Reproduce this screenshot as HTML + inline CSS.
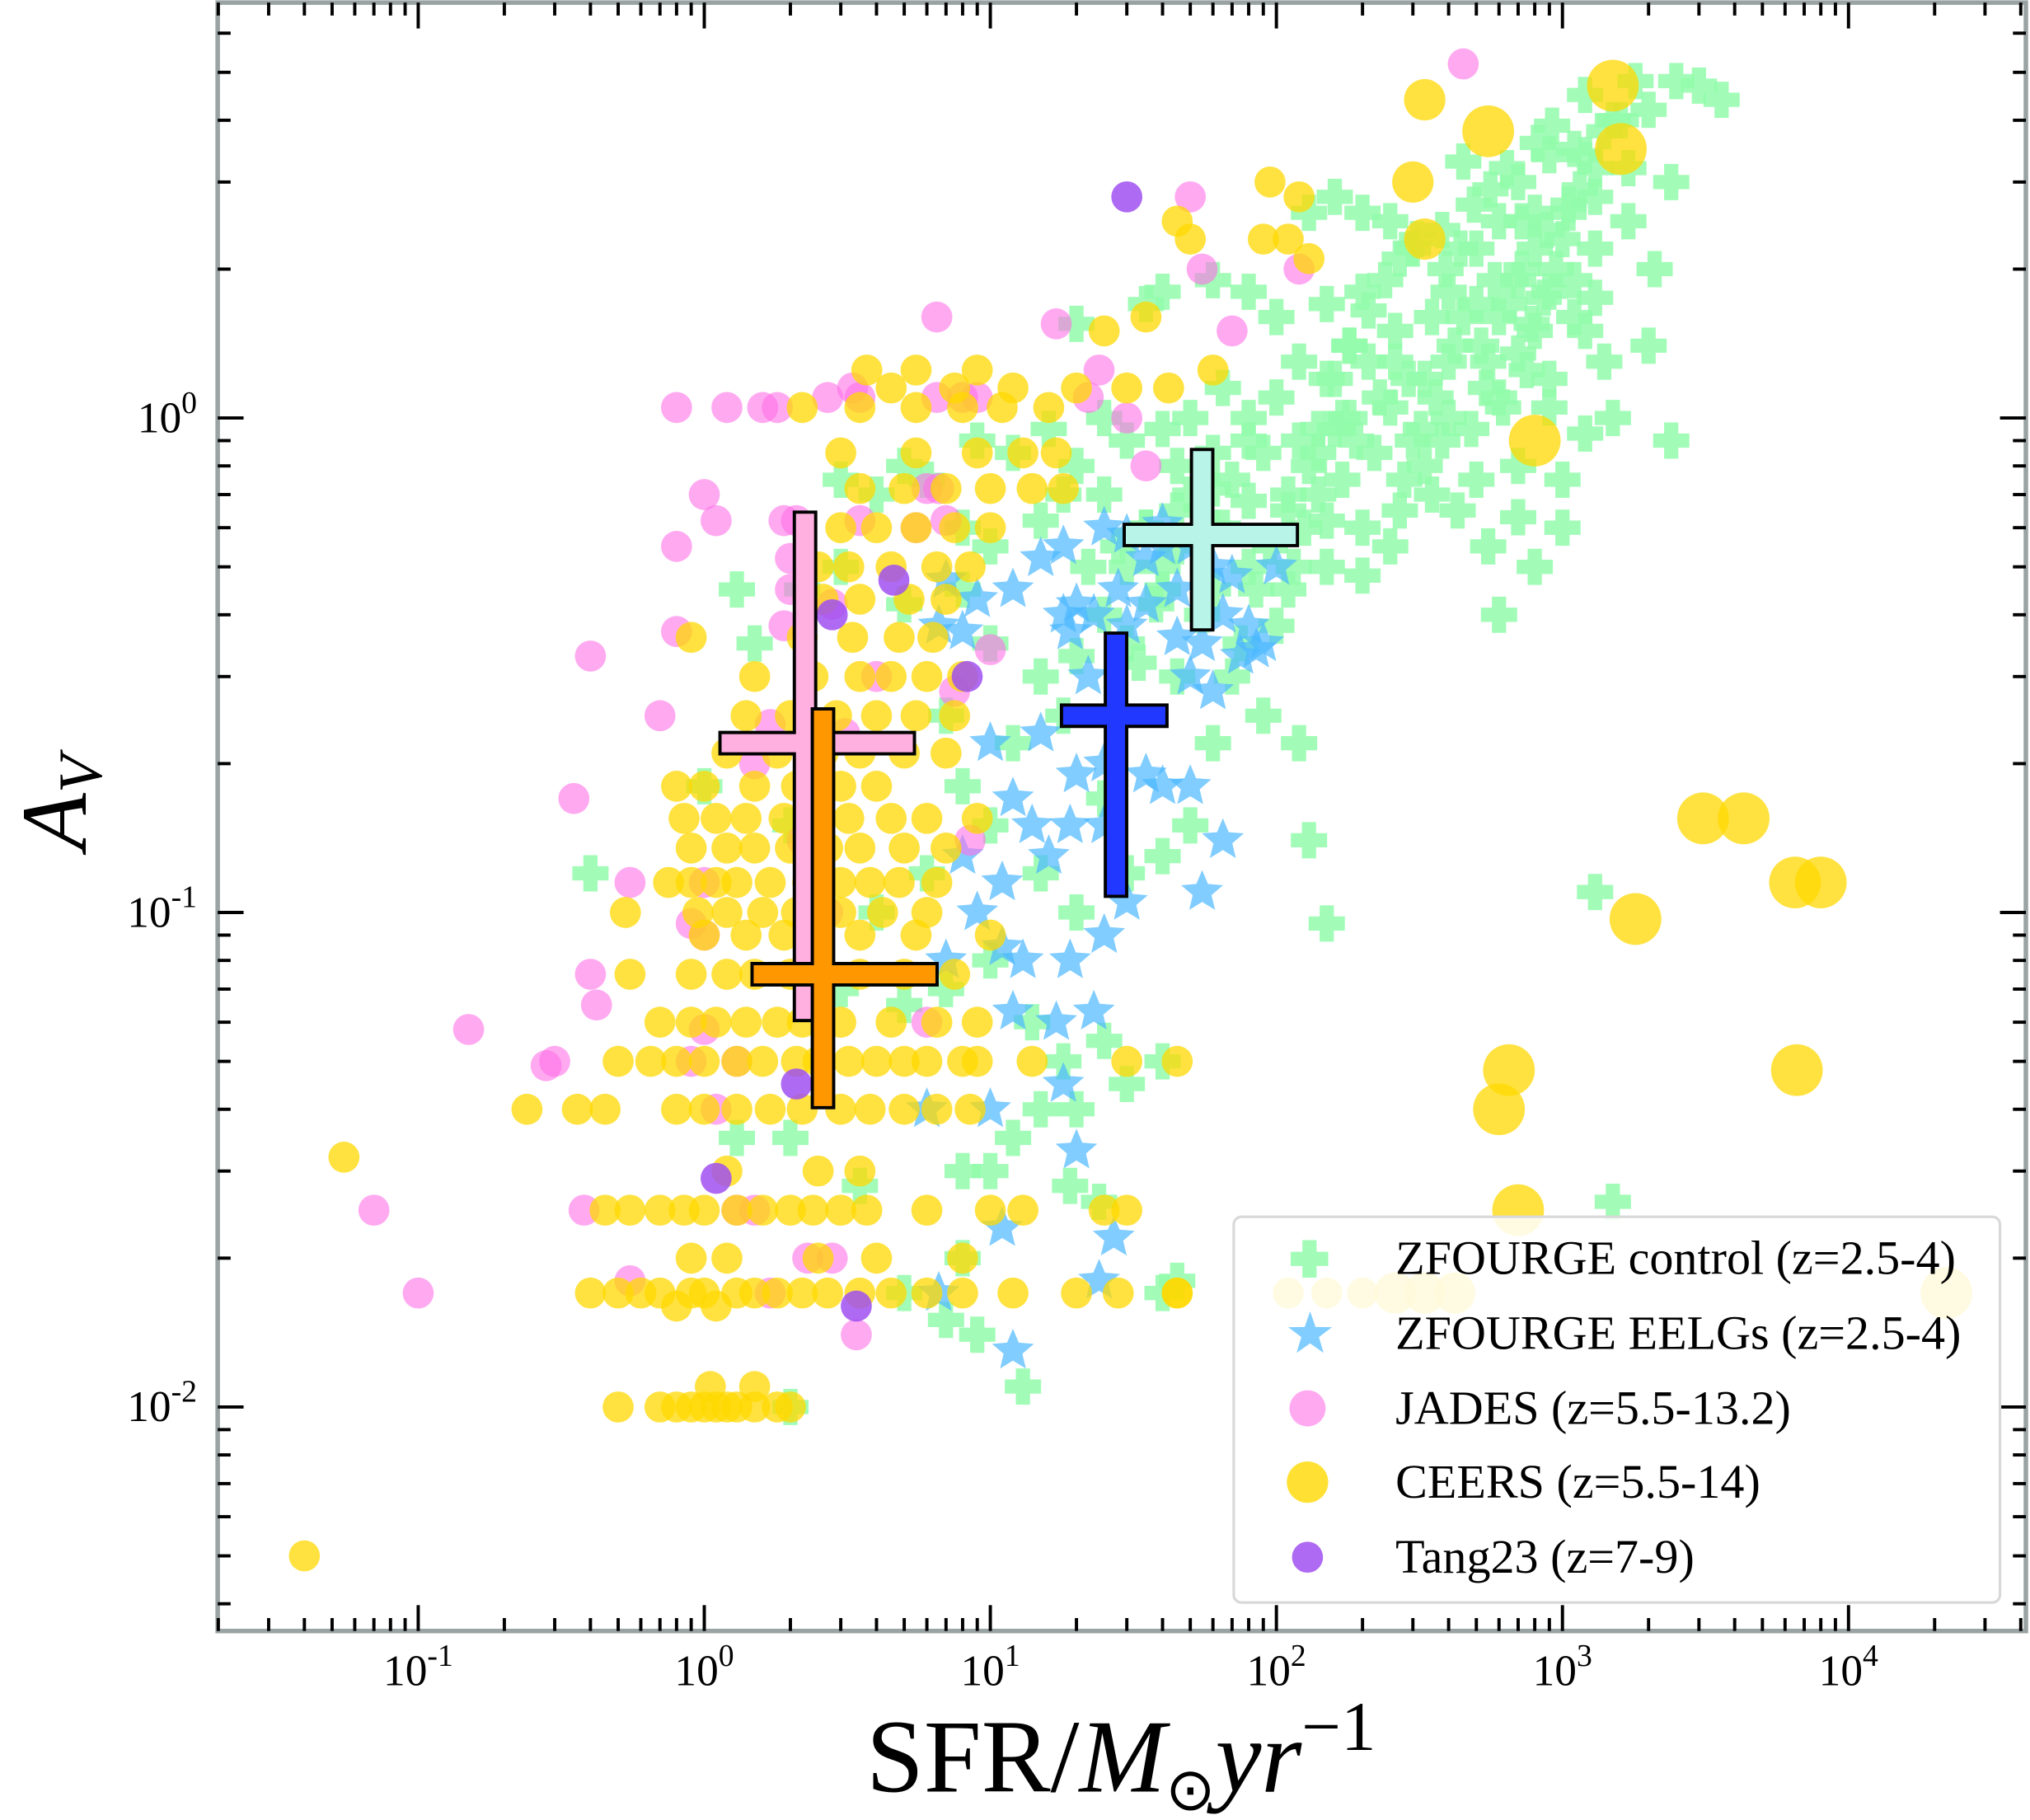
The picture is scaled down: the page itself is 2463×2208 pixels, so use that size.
<!DOCTYPE html>
<html><head><meta charset="utf-8"><style>
html,body{margin:0;padding:0;background:#fff;}
svg{display:block;}
text{font-family:"Liberation Serif",serif;}
</style></head><body>
<svg id="chart" width="2463" height="2208" viewBox="0 0 1568 1406" xmlns="http://www.w3.org/2000/svg">
<g id="marks"></g>
<g id="axes"></g>
</svg>
<script>
// ---- data ----
const ceersSfr = [0.5,0.7,0.8,0.9,1.0,1.1,1.3,1.5,1.8,2.0,1.2,1.05,1.5,
0.4,0.5,0.6,0.7,0.9,1.0,1.3,1.5,1.8,2.2,2.7,3.5,4.5,6,8,12,20,28,45,0.8,1.1,
0.9,1.2,2.5,4,8,
0.45,0.55,0.7,0.85,1.0,1.3,1.6,2.0,2.4,3.0,3.7,6,13,30,
1.2,2.5,3.5,
0.24,0.36,0.45,0.8,1.0,1.3,1.7,2.2,3.0,3.8,5.0,6.5,8.5,
0.5,0.65,0.8,1.0,1.3,1.6,2.1,2.5,3.2,4,5,6,8,9,14,30,
0.7,0.9,1.1,1.4,1.8,2.2,3,4.5,6.5,9,
0.55,0.9,1.2,1.5,2.0,2.6,3.5,5,7.5,
1.0,1.4,1.9,3.5,5.5,10,
0.53,0.95,1.2,1.6,2.1,3,4.2,6,
0.75,0.9,1.1,1.3,1.7,2.3,3,3.8,4.8,6.5,
0.9,1.2,1.5,2.0,2.7,3.5,5,7,
0.85,1.1,1.4,1.9,2.5,3.2,4.5,6,9,
0.8,1.0,1.5,2.1,3,4,
1.2,1.8,2.6,3.5,5,7,
1.4,2,2.9,4,5.5,7.5,
1.5,2.4,3.5,4.5,6,8,
0.9,2.2,3.3,4.8,6.3,
2.6,3.5,5.2,7,
2.5,3.2,4.5,6.5,8.5,
3,4,5.5,7.5,10,
3.5,5,7,10,14,18,
3,5.5,9,13,17,
2.2,3.5,5.5,8,11,16,
4.5,7.5,12,20,30,42,
3.7,5.5,9,
25,35,50,60,90,110,130,120,95,45,300,330,330,550,1500,1600,800,3100,4300,6500,8000,1800,650,6600,600,700,22000,0.04,0.055,110,150,200,260,330,420,45,25,10,45];
const ceersAv = [0.01,0.01,0.01,0.01,0.01,0.01,0.01,0.01,0.01,0.01,0.01,0.011,0.011,
0.017,0.017,0.017,0.017,0.017,0.017,0.017,0.017,0.017,0.017,0.017,0.017,0.017,0.017,0.017,0.017,0.017,0.017,0.017,0.016,0.016,
0.02,0.02,0.02,0.02,0.02,
0.025,0.025,0.025,0.025,0.025,0.025,0.025,0.025,0.025,0.025,0.025,0.025,0.025,0.025,
0.03,0.03,0.03,
0.04,0.04,0.04,0.04,0.04,0.04,0.04,0.04,0.04,0.04,0.04,0.04,0.04,
0.05,0.05,0.05,0.05,0.05,0.05,0.05,0.05,0.05,0.05,0.05,0.05,0.05,0.05,0.05,0.05,
0.06,0.06,0.06,0.06,0.06,0.06,0.06,0.06,0.06,0.06,
0.075,0.075,0.075,0.075,0.075,0.075,0.075,0.075,0.075,
0.09,0.09,0.09,0.09,0.09,0.09,
0.1,0.1,0.1,0.1,0.1,0.1,0.1,0.1,
0.115,0.115,0.115,0.115,0.115,0.115,0.115,0.115,0.115,0.115,
0.135,0.135,0.135,0.135,0.135,0.135,0.135,0.135,
0.155,0.155,0.155,0.155,0.155,0.155,0.155,0.155,0.155,
0.18,0.18,0.18,0.18,0.18,0.18,
0.21,0.21,0.21,0.21,0.21,0.21,
0.25,0.25,0.25,0.25,0.25,0.25,
0.3,0.3,0.3,0.3,0.3,0.3,
0.36,0.36,0.36,0.36,0.36,
0.43,0.43,0.43,0.43,
0.5,0.5,0.5,0.5,0.5,
0.6,0.6,0.6,0.6,0.6,
0.72,0.72,0.72,0.72,0.72,0.72,
0.85,0.85,0.85,0.85,0.85,
1.05,1.05,1.05,1.05,1.05,1.05,
1.15,1.15,1.15,1.15,1.15,1.15,
1.25,1.25,1.25,
1.5,1.6,2.3,1.25,2.3,2.3,2.1,2.8,3.0,2.5,3.0,2.3,4.4,3.8,4.7,3.5,0.9,0.155,0.155,0.115,0.115,0.097,0.048,0.048,0.04,0.025,0.017,0.005,0.032,0.017,0.017,0.017,0.017,0.017,0.017,0.017,0.025,0.025,0.05];
const jadesSfr = [450,50,55,120,17,6.5,0.8,1.2,1.6,1.8,2.7,3.5,3.3,6.5,8,9,22,24,30,1,1.1,0.8,1.9,2.1,3.5,6,6.6,7,5.5,0.8,0.4,2,2,1.9,2.8,0.7,1.5,0.35,2.2,0.55,1.0,0.9,1.0,0.4,0.42,0.9,1.0,1.3,0.3,0.28,0.15,0.07,0.1,0.38,1.1,1.5,2.3,1.7,2.8,3.4,0.55,1.3,6,8.5,4,3.1,7.5,10,35,70,1.7,2.7];
const jadesAv = [5.2,2.8,2.0,2.0,1.55,1.6,1.05,1.05,1.05,1.05,1.1,1.1,1.15,1.1,1.1,1.1,1.1,1.25,1.0,0.7,0.62,0.55,0.62,0.62,0.62,0.72,0.72,0.62,0.6,0.37,0.33,0.52,0.45,0.38,0.42,0.25,0.2,0.17,0.14,0.115,0.115,0.095,0.09,0.075,0.065,0.05,0.058,0.05,0.05,0.049,0.058,0.025,0.017,0.025,0.04,0.025,0.02,0.017,0.02,0.014,0.018,0.025,0.06,0.14,0.3,0.23,0.28,0.34,0.8,1.5,0.24,0.1];
const tangSfr = [30,2.8,4.6,8.3,2.1,1.1,3.4];
const tangAv = [2.8,0.4,0.47,0.3,0.045,0.029,0.016];
const eelgSfr = [7,6.6,9,12,15,18,20,23,25,30,35,40,45,50,60,70,80,90,75,55,35,28,19,18,22,60,10,15,20,25,35,40,50,12,14,19,8,11,16,25,65,30,55,9,11,13,19,25,12,17,23,7,6,10,18,20,11,27,24,6.6,12,8,45,65,85,100,40,30,50];
const eelgAv = [0.47,0.38,0.43,0.45,0.52,0.55,0.42,0.4,0.6,0.58,0.52,0.61,0.45,0.55,0.5,0.48,0.38,0.35,0.33,0.35,0.42,0.45,0.37,0.4,0.3,0.28,0.22,0.23,0.19,0.2,0.19,0.18,0.18,0.17,0.15,0.15,0.13,0.115,0.13,0.15,0.14,0.105,0.11,0.1,0.085,0.08,0.08,0.09,0.063,0.06,0.063,0.08,0.04,0.04,0.045,0.033,0.023,0.022,0.018,0.017,0.013,0.37,0.36,0.4,0.34,0.5,0.55,0.38,0.3];
const zfSfr = [1500,1200,1800,2500,3000,3600,2000,1600,1100,1300,900,700,450,160,200,250,130,300,380,500,600,800,1000,1300,1700,1100,900,700,500,400,600,800,1200,1300,200,150,100,80,60,40,35,20,120,180,260,330,420,550,250,180,140,100,80,65,50,40,30,25,20,45,60,90,130,170,220,300,400,500,700,350,270,200,150,110,80,60,45,35,25,18,15,10,8,6,5,4,3,9,12,16,150,200,250,110,80,60,40,30,20,15,10,8,5,3,2.2,1.5,1.3,7,12,18,45,70,90,120,60,25,40,50,30,20,15,10,8,6,4,3,5,7,10,14,18,25,30,12,15,20,8,10,19,24,8,7,9,13,5,2.0,2,1.3,3.5,0.4,1,2,130,150,1300,1500,2400,550,700,1200,1000,800,600,1000,1400,1500,2000,2100,2400,900,40,45,40,
150,170,190,210,230,260,290,320,360,400,450,520,580,650,720,800,880,950,1050,1150,280,330,380,430,480,540,620,700,780,860,120,140,160,180,210,240,270,310,350,390,440,490,560,640,720,820,920,1050,1200,1400,60,70,80,95,110,125,140,160,45,55,65,75,85,100,115,30,35,40,50,25,28,33,38,22,600,750,900,1100,1300,1700];
const zfAv = [4.0,4.5,4.8,4.8,4.7,4.4,4.2,4.0,3.5,3.2,3.4,3.0,3.3,2.8,2.6,2.5,2.6,2.2,2.4,2.2,2.5,2.6,2.3,2.2,2.5,1.9,1.8,1.9,1.7,1.8,1.6,1.5,1.5,1.75,1.8,1.7,1.6,1.8,1.9,1.8,1.7,1.55,1.3,1.4,1.3,1.2,1.4,1.3,1.05,1.0,0.95,1.1,1.0,1.15,1.0,0.95,0.9,1.0,0.8,0.8,0.85,0.85,0.8,0.75,0.85,0.9,1.0,0.75,0.8,0.7,0.65,0.6,0.62,0.65,0.68,0.72,0.65,0.6,0.7,0.7,0.62,0.55,0.6,0.75,0.8,0.7,0.75,0.9,0.85,0.95,0.5,0.48,0.55,0.45,0.5,0.45,0.5,0.35,0.33,0.3,0.35,0.45,0.42,0.5,0.45,0.35,0.45,0.25,0.22,0.25,0.3,0.3,0.25,0.22,0.22,0.17,0.13,0.15,0.12,0.1,0.12,0.15,0.18,0.12,0.1,0.07,0.065,0.07,0.08,0.06,0.05,0.055,0.045,0.035,0.04,0.04,0.03,0.03,0.028,0.026,0.02,0.015,0.014,0.011,0.017,0.01,0.035,0.035,0.028,0.12,0.18,0.15,0.14,0.095,0.11,0.026,0.9,0.55,0.63,0.93,0.6,0.5,0.4,0.75,1.3,1.0,1.4,2.0,3.0,1.2,0.017,0.018,0.05,
1.2,1.0,0.9,1.3,1.1,1.5,1.2,0.95,1.1,1.3,1.6,1.4,1.9,1.7,2.0,2.2,2.4,2.0,2.6,2.9,0.75,0.8,0.9,0.65,0.95,1.15,1.05,1.35,1.55,1.75,0.9,0.7,1.2,1.4,1.65,1.9,2.1,2.3,1.6,2.0,2.2,2.7,2.9,3.2,2.5,3.6,3.9,2.7,3.4,3.8,0.6,0.75,0.9,0.55,0.7,0.6,0.85,0.95,0.55,0.4,0.6,0.35,0.45,0.38,0.5,0.5,0.6,0.45,0.7,0.4,0.55,0.32,0.42,0.5,1.1,1.25,1.05,1.6,2.8,3.2];
// error crosses: center, x range, y range
const crossNames = ['jades-median','ceers-median','eelg-median','control-median'];
const crossX = [2.25, 2.6, 27.5, 55];
const crossXlo = [1.12, 1.45, 17.5, 29];
const crossXhi = [5.5, 6.6, 42, 120];
const crossY = [0.22, 0.075, 0.25, 0.58];
const crossYlo = [0.06, 0.04, 0.107, 0.37];
const crossYhi = [0.65, 0.26, 0.37, 0.87];
const crossColors = ['#ffb0e0','#ff9800','#2038ff','#b8f5e8'];
const xTicks = [-1,0,1,2,3,4];
const yTicks = [0,-1,-2];

// ---- axes ----
const L=168,R=1565,T=2,B=1260;
const xLo=-1.701, xHi=4.62, yLo=-2.453, yHi=0.84;
const X=v=>L+(Math.log10(v)-xLo)/(xHi-xLo)*(R-L);
const Y=v=>B-(Math.log10(v)-yLo)/(yHi-yLo)*(B-T);
const NS='http://www.w3.org/2000/svg';
const marks=document.getElementById('marks'), axes=document.getElementById('axes');
function mk(tag,attrs,parent){const e=document.createElementNS(NS,tag);for(const k in attrs)e.setAttribute(k,attrs[k]);parent.appendChild(e);return e;}
function plusPath(cx,cy,s,w){return `M${cx-w/2},${cy-s}h${w}v${s-w/2}h${s-w/2}v${w}h${-(s-w/2)}v${s-w/2}h${-w}v${-(s-w/2)}h${-(s-w/2)}v${-w}h${s-w/2}z`;}
function starPath(cx,cy,r){let d='';for(let i=0;i<10;i++){const a=-Math.PI/2+i*Math.PI/5;const rr=i%2?r*0.45:r;d+=(i?'L':'M')+(cx+rr*Math.cos(a)).toFixed(1)+','+(cy+rr*Math.sin(a)).toFixed(1);}return d+'Z';}

zfSfr.forEach((s,i)=>{
  const p=mk('path',{d:plusPath(X(s),Y(zfAv[i]),14,11),fill:'#92fcaa','fill-opacity':0.85},marks);
  
  
});
eelgSfr.forEach((s,i)=>{
  const p=mk('path',{d:starPath(X(s),Y(eelgAv[i]),17),fill:'#4cb8ff','fill-opacity':0.7},marks);
  
  
});
jadesSfr.forEach((s,i)=>{
  const c=mk('circle',{cx:X(s),cy:Y(jadesAv[i]),r:12,fill:'#ff70e8','fill-opacity':0.6},marks);
  
  
});
ceersSfr.forEach((s,i)=>{
  const r = s>500 ? 20 : (s>250 ? 16 : 12);
  const c=mk('circle',{cx:X(s),cy:Y(ceersAv[i]),r:r,fill:'#ffd800','fill-opacity':0.75},marks);
  
  
});
tangSfr.forEach((s,i)=>{
  const c=mk('circle',{cx:X(s),cy:Y(tangAv[i]),r:12,fill:'#a050f0','fill-opacity':0.85},marks);
  
  
});
crossX.forEach((cx,i)=>{
  const g=mk('g',{},marks);
  
  
  const x=X(cx),y=Y(crossY[i]);
  mk('line',{x1:X(crossXlo[i]),x2:X(crossXhi[i]),y1:y,y2:y,stroke:'#000','stroke-width':19},g);
  mk('line',{x1:x,x2:x,y1:Y(crossYlo[i]),y2:Y(crossYhi[i]),stroke:'#000','stroke-width':19},g);
  mk('line',{x1:X(crossXlo[i])+2.5,x2:X(crossXhi[i])-2.5,y1:y,y2:y,stroke:crossColors[i],'stroke-width':14},g);
  mk('line',{x1:x,x2:x,y1:Y(crossYlo[i])-2.5,y2:Y(crossYhi[i])+2.5,stroke:crossColors[i],'stroke-width':14},g);
});

// frame & ticks
const fr=mk('rect',{x:L,y:T,width:R-L,height:B-T,fill:'none',stroke:'#9aa3a3','stroke-width':3.5},axes);


for(let d=-2;d<=4;d++){for(let m=1;m<10;m++){const v=Math.log10(m)+d;if(v<xLo||v>xHi)continue;const x=L+(v-xLo)/(xHi-xLo)*(R-L);const len=m==1?20:10;
  mk('line',{x1:x,x2:x,y1:B,y2:B-len,stroke:'#000','stroke-width':2.5},axes);mk('line',{x1:x,x2:x,y1:T,y2:T+len,stroke:'#000','stroke-width':2.5},axes);}}
for(let d=-3;d<=0;d++){for(let m=1;m<10;m++){const v=Math.log10(m)+d;if(v<yLo||v>yHi)continue;const y=B-(v-yLo)/(yHi-yLo)*(B-T);const len=m==1?20:10;
  mk('line',{x1:L,x2:L+len,y1:y,y2:y,stroke:'#000','stroke-width':2.5},axes);mk('line',{x1:R,x2:R-len,y1:y,y2:y,stroke:'#000','stroke-width':2.5},axes);}}
xTicks.forEach(t=>{const e=mk('text',{x:X(Math.pow(10,t)),y:1302,'font-size':34,'text-anchor':'middle'},axes);
  e.innerHTML='10<tspan dy="-15" font-size="24">'+t+'</tspan>';
  
  });
yTicks.forEach(t=>{const e=mk('text',{x:152,y:Y(Math.pow(10,t))+11,'font-size':34,'text-anchor':'end'},axes);
  e.innerHTML='10<tspan dy="-15" font-size="24">'+t+'</tspan>';
  
  });
</script>
<svg style="position:absolute;left:0;top:0" width="2463" height="2208" viewBox="0 0 1568 1406" xmlns="http://www.w3.org/2000/svg">
<g><text x="866" y="1384" font-size="80" text-anchor="middle">SFR/<tspan font-style="italic">M</tspan><tspan font-size="46" dy="14">⊙</tspan><tspan dy="-14" font-style="italic">yr</tspan><tspan dy="-32" font-size="54">−1</tspan></text></g>
<g><text transform="translate(66,620) rotate(-90)" font-size="72" text-anchor="middle" font-style="italic">A<tspan font-size="48" dy="12">V</tspan></text></g>
<g>
<rect x="953" y="940" width="592" height="298" rx="6" fill="#fff" fill-opacity="0.85" stroke="#d8d8d8" stroke-width="2"/>
<path d="M1006,958h11v9h9v11h-9v9h-11v-9h-9v-11h9z" fill="#92fcaa" fill-opacity="0.85"/>
<text x="1078" y="984" font-size="37">ZFOURGE control (z=2.5-4)</text>
<path d="M1012,1013L1016.2,1025.1L1028.9,1025.3L1018.8,1032.9L1022.4,1045.1L1012,1037.8L1001.6,1045.1L1005.2,1032.9L995.1,1025.3L1007.8,1025.1Z" fill="#4cb8ff" fill-opacity="0.7"/>
<text x="1078" y="1042" font-size="37">ZFOURGE EELGs (z=2.5-4)</text>
<circle cx="1010" cy="1088" r="14" fill="#ff70e8" fill-opacity="0.6"/>
<text x="1078" y="1100" font-size="37">JADES (z=5.5-13.2)</text>
<circle cx="1010" cy="1145" r="16" fill="#ffd800" fill-opacity="0.8"/>
<text x="1078" y="1157" font-size="37">CEERS (z=5.5-14)</text>
<circle cx="1010" cy="1203" r="12" fill="#a050f0" fill-opacity="0.85"/>
<text x="1078" y="1215" font-size="37">Tang23 (z=7-9)</text>
</g>
</svg>
</body></html>
